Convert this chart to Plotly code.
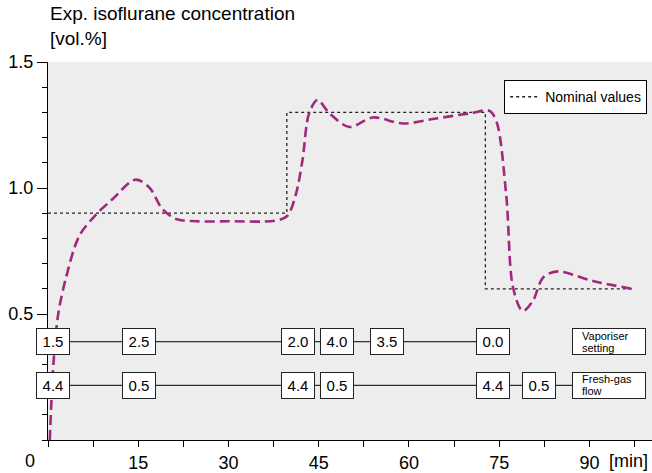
import plotly.graph_objects as go

# Measured end-tidal isoflurane concentration [vol.%] over time [min]
time_min = [0.3, 0.9, 1.7, 3.0, 5.2, 8.0, 10.7, 14.5, 16.8, 19.0, 21.3, 24.6, 30.0,
            37.9, 39.8, 41.2, 42.3, 43.4, 44.8, 46.8, 50.1, 54.0, 59.0, 64.5, 70.1,
            73.4, 74.6, 76.2, 77.3, 78.9, 80.6, 82.3, 84.7, 90.6, 97.5]
conc = [0.0, 0.3, 0.5, 0.645, 0.81, 0.895, 0.955, 1.033, 1.003, 0.917, 0.877, 0.868, 0.868,
        0.871, 0.89, 0.975, 1.11, 1.296, 1.349, 1.296, 1.242, 1.28, 1.256, 1.276, 1.296,
        1.306, 1.26, 0.963, 0.605, 0.512, 0.552, 0.645, 0.669, 0.631, 0.598]

# Nominal (target) concentration steps
nominal_time = [0, 39.7, 39.7, 72.7, 72.7, 97.5]
nominal_conc = [0.9, 0.9, 1.3, 1.3, 0.6, 0.6]

# Vaporiser setting changes
vap_time = [0.9, 15.2, 41.5, 48.0, 56.3, 74.0]
vap_text = ["1.5", "2.5", "2.0", "4.0", "3.5", "0.0"]

# Fresh-gas flow changes
flow_time = [0.9, 15.2, 41.5, 48.0, 74.0, 81.6]
flow_text = ["4.4", "0.5", "4.4", "0.5", "4.4", "0.5"]

# Row captions
vap_caption = ["Vaporiser", "setting"]
flow_caption = ["Fresh-gas", "flow"]

row_label_time = 93.2
vap_row_y = 0.39
flow_row_y = 0.217

x_ticks = [i * 7.5 for i in range(14)]
x_ticktext = [("" if (v == 0 or v % 15) else str(int(v))) for v in x_ticks]

FONT = "Liberation Sans, Arial, Helvetica, sans-serif"
MAGENTA = "#A2287F"

fig = go.Figure()

# connecting lines for the two setting rows
fig.add_trace(go.Scatter(x=[vap_time[0], vap_time[-1]], y=[vap_row_y, vap_row_y],
                         mode="lines", line=dict(color="black", width=1),
                         showlegend=False, hoverinfo="skip"))
fig.add_trace(go.Scatter(x=[flow_time[0], row_label_time], y=[flow_row_y, flow_row_y],
                         mode="lines", line=dict(color="black", width=1),
                         showlegend=False, hoverinfo="skip"))

fig.add_trace(go.Scatter(x=nominal_time, y=nominal_conc, mode="lines",
                         name="Nominal values",
                         line=dict(color="#222222", width=1.3, dash="3px,3px")))

fig.add_trace(go.Scatter(x=time_min, y=conc, mode="lines", showlegend=False,
                         line=dict(color=MAGENTA, width=2.6, dash="10px,5px",
                                   shape="spline", smoothing=0.9)))

annotations = []


def box(x, y, text, width=30, height=23, size=15):
    return dict(x=x, y=y, xref="x", yref="y", text=text, showarrow=False,
                font=dict(family=FONT, size=size, color="black"),
                bgcolor="white", bordercolor="#222222", borderwidth=1, borderpad=1,
                width=width, height=height, align="center", valign="middle")


def caption(x, y, lines):
    items = [box(x, y, " ", width=70, height=23, size=11)]
    for k, line in enumerate(lines):
        items.append(dict(x=x, y=y, xref="x", yref="y", text=line, showarrow=False,
                          xanchor="left", yanchor="middle", xshift=-29,
                          yshift=6 - 12 * k,
                          font=dict(family=FONT, size=11, color="black")))
    return items


for t, s in zip(vap_time, vap_text):
    annotations.append(box(t, vap_row_y, s))
for t, s in zip(flow_time, flow_text):
    annotations.append(box(t, flow_row_y, s))
annotations += caption(row_label_time, vap_row_y, vap_caption)
annotations += caption(row_label_time, flow_row_y, flow_caption)

annotations.append(dict(xref="paper", yref="paper", x=0, y=1, xanchor="left", yanchor="bottom",
                        yshift=11, showarrow=False, align="left",
                        text="Exp. isoflurane concentration<br>[vol.%]",
                        font=dict(family=FONT, size=19, color="black")))
annotations.append(dict(xref="paper", yref="paper", x=0, y=0, xanchor="center", yanchor="middle",
                        xshift=-18, yshift=-21, showarrow=False, text="0",
                        font=dict(family=FONT, size=18, color="black")))
annotations.append(dict(xref="paper", yref="paper", x=1, y=0, xanchor="right", yanchor="middle",
                        xshift=-2, yshift=-21, showarrow=False, text="[min]",
                        font=dict(family=FONT, size=18, color="black")))

fig.update_layout(
    width=652, height=473,
    margin=dict(l=48, r=0, t=62, b=33),
    paper_bgcolor="white", plot_bgcolor="#EDEDED",
    font=dict(family=FONT, size=18, color="black"),
    annotations=annotations,
    legend=dict(x=0.992, y=0.952, xanchor="right", yanchor="top",
                bgcolor="white", bordercolor="black", borderwidth=1,
                font=dict(family=FONT, size=14, color="black")),
    xaxis=dict(range=[0, 100.4], showgrid=False, zeroline=False,
               showline=True, linecolor="black", linewidth=1,
               ticks="outside", ticklen=6, tickcolor="black",
               tickmode="array", tickvals=x_ticks, ticktext=x_ticktext),
    yaxis=dict(range=[0, 1.5], showgrid=False, zeroline=False,
               showline=True, linecolor="black", linewidth=1,
               ticks="outside", ticklen=10, tickcolor="black",
               tickmode="array", tickvals=[0, 0.5, 1.0, 1.5],
               ticktext=["", "0.5", "1.0", "1.5"],
               minor=dict(tickmode="array",
                          tickvals=[round(i * 0.1, 1) for i in range(16)],
                          ticks="outside", ticklen=5, tickcolor="black", showgrid=False)),
)

fig.write_html("out.html")
